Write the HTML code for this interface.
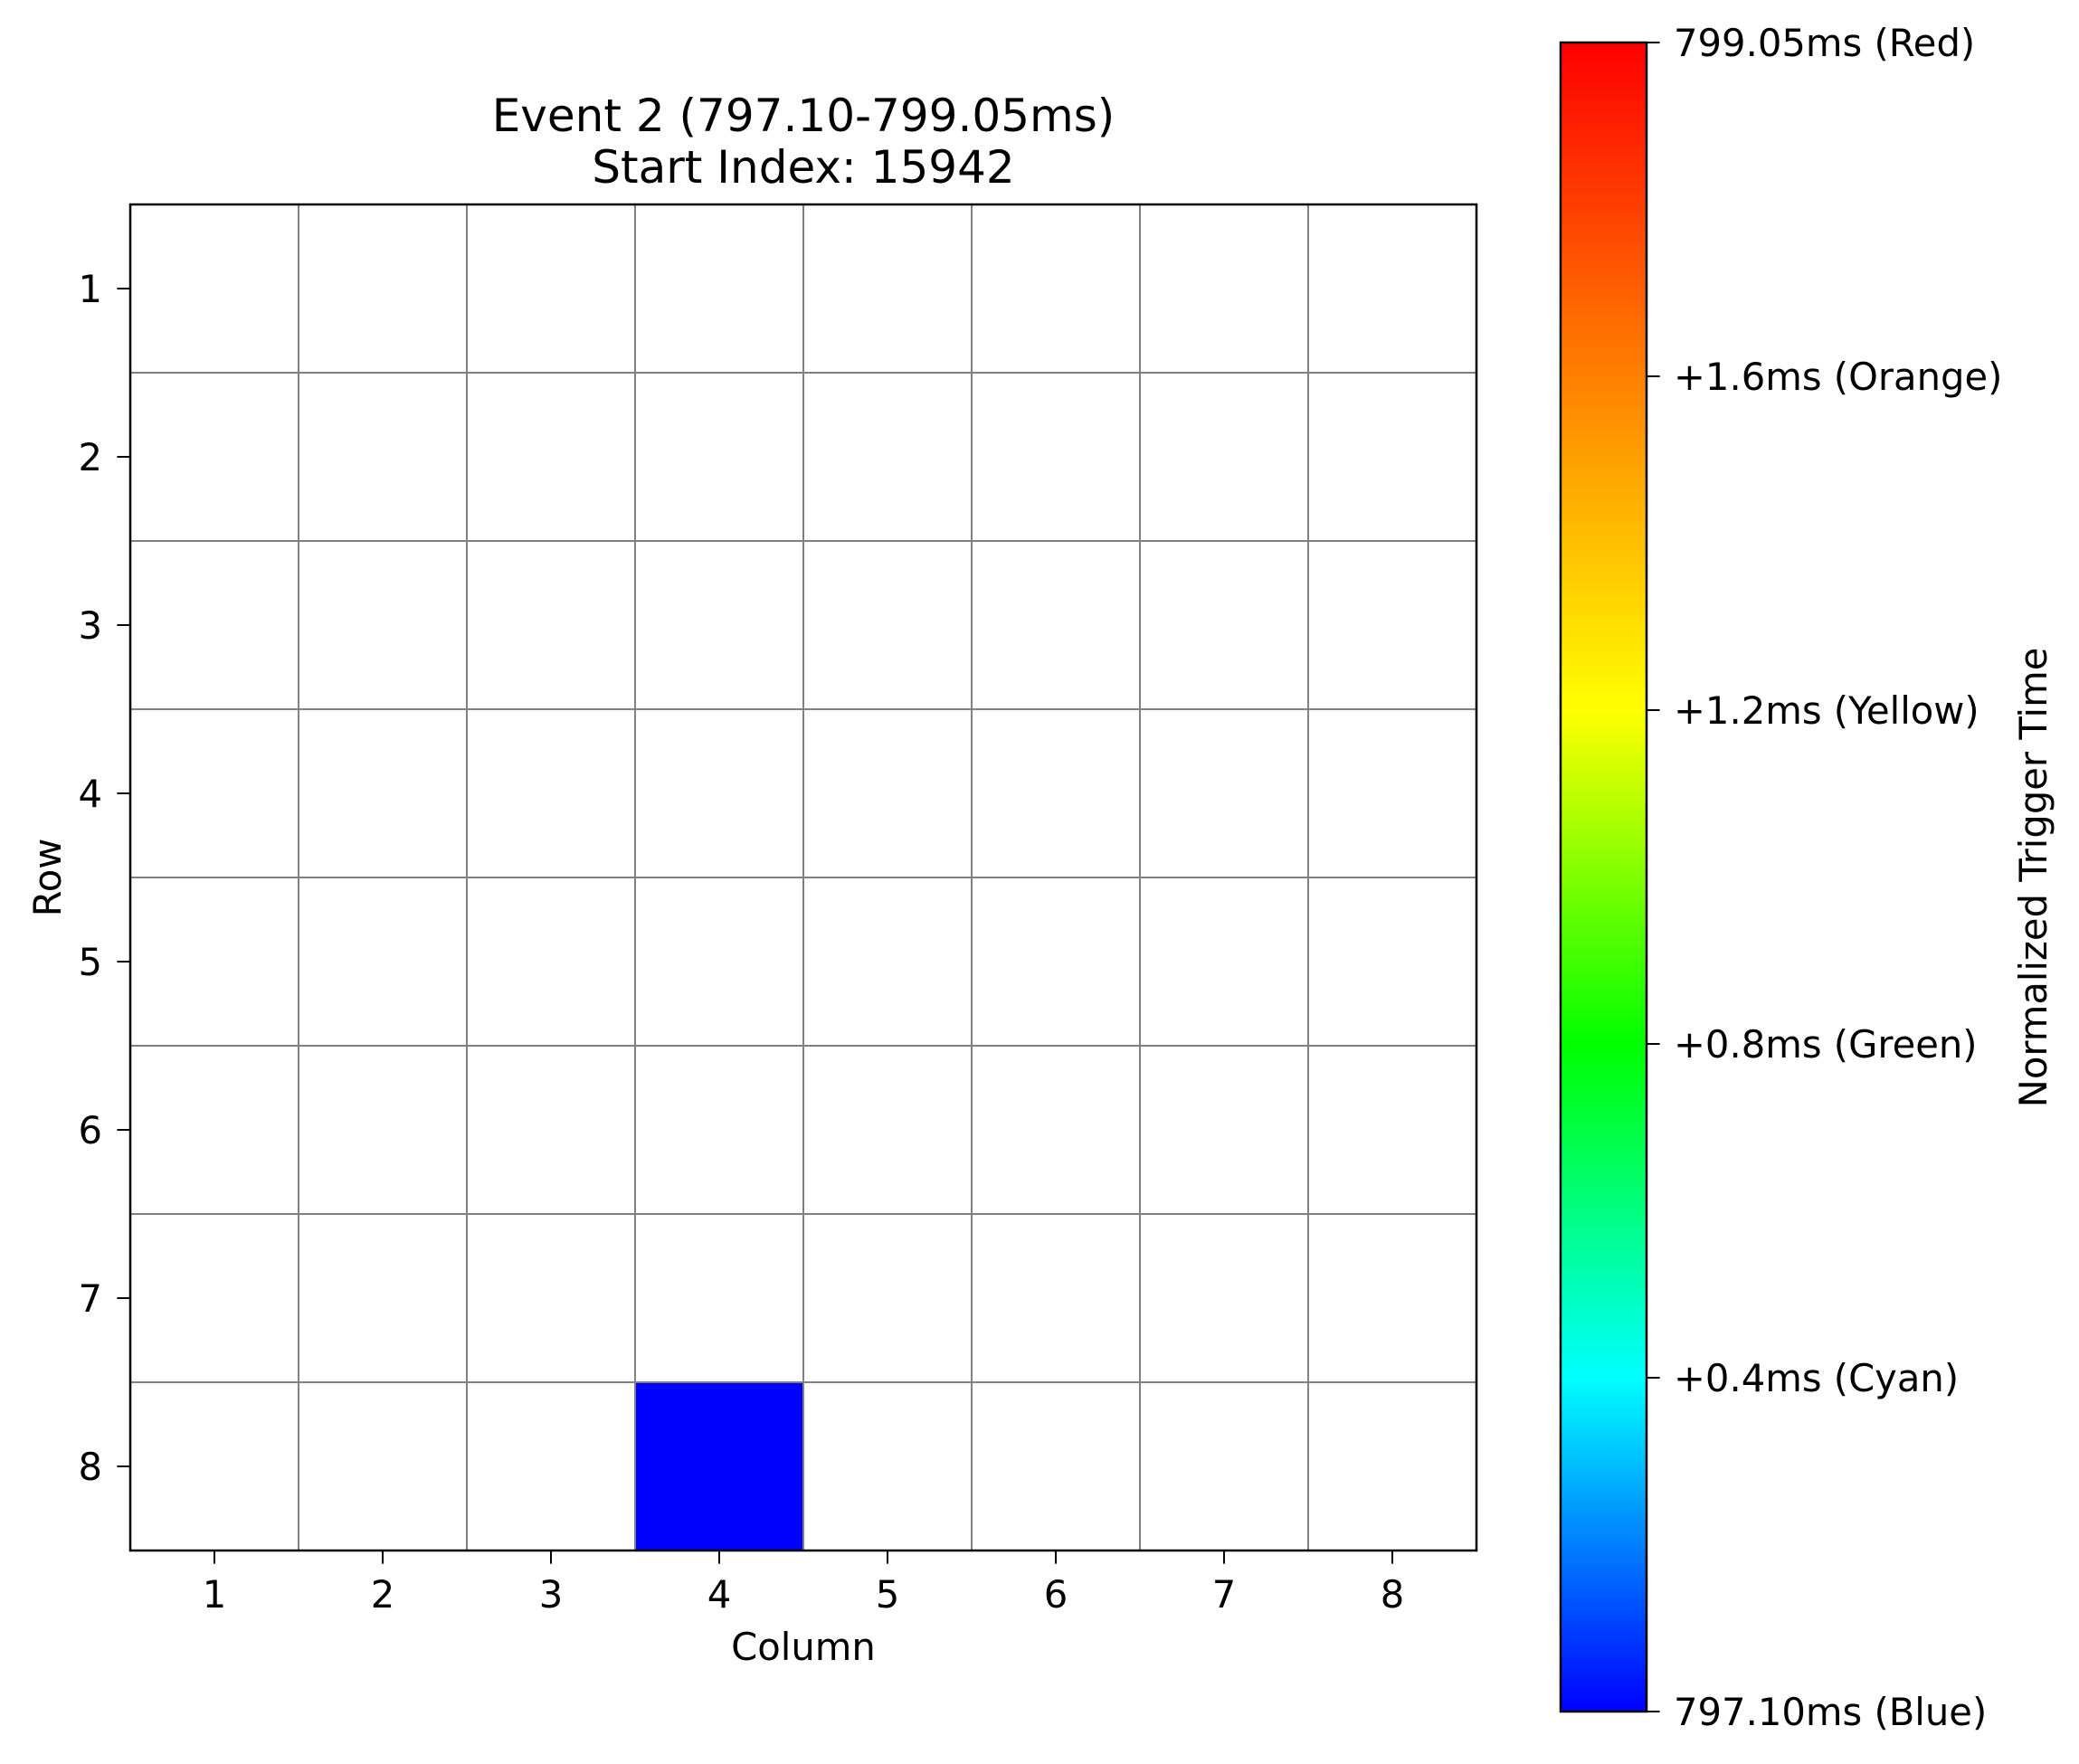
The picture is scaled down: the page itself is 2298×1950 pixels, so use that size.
<!DOCTYPE html>
<html><head><meta charset="utf-8"><style>
html,body{margin:0;padding:0;background:#fff;}
svg{display:block;font-family:"DejaVu Sans","Liberation Sans",sans-serif;}
</style></head><body>
<svg id="chart" width="2298" height="1950" viewBox="0 0 2298 1950" xmlns="http://www.w3.org/2000/svg">
<defs>
<linearGradient id="cbgrad" x1="0" y1="1" x2="0" y2="0">
<stop offset="0" stop-color="#0000ff"/>
<stop offset="0.2" stop-color="#00ffff"/>
<stop offset="0.4" stop-color="#00ff00"/>
<stop offset="0.6" stop-color="#ffff00"/>
<stop offset="0.8" stop-color="#ff8000"/>
<stop offset="1" stop-color="#ff0000"/>
</linearGradient>
</defs>
<text x="888" y="145" font-size="50" text-anchor="middle">Event 2 (797.10-799.05ms)</text>
<text x="888" y="202" font-size="50" text-anchor="middle">Start Index: 15942</text>
<g id="plot"></g>
<text x="888" y="1835" font-size="41.7" text-anchor="middle">Column</text>
<text x="67" y="970" font-size="41.7" text-anchor="middle" transform="rotate(-90 67 970)">Row</text>
<g id="cbar"></g>
<text x="2262" y="970" font-size="41.7" text-anchor="middle" transform="rotate(-90 2262 970)">Normalized Trigger Time</text>
</svg>
<script>
const columns = [1,2,3,4,5,6,7,8];
const rows = [1,2,3,4,5,6,7,8];
// triggered cells: [row, column, normalized value 0..1]
const cellRows = [8];
const cellCols = [4];
const cellValues = [0.0];
const cbTickValues = [0, 0.2, 0.4, 0.6, 0.8, 1.0];
const cbTickLabels = ["797.10ms (Blue)", "+0.4ms (Cyan)", "+0.8ms (Green)", "+1.2ms (Yellow)", "+1.6ms (Orange)", "799.05ms (Red)"];

const NS = "http://www.w3.org/2000/svg";
const AX = {l:144, t:226, r:1632, b:1714};
const CB = {l:1725, t:47, r:1820, b:1892};
const xScale = c => AX.l + (c - 0.5) * (AX.r - AX.l) / columns.length;
const yScale = r => AX.t + (r - 0.5) * (AX.b - AX.t) / rows.length;
const cbY = v => CB.b - v * (CB.b - CB.t);
function mk(tag, attrs, parent){ const e=document.createElementNS(NS,tag); for(const k in attrs) e.setAttribute(k,attrs[k]); parent.appendChild(e); return e; }
function jet(v){
  const stops=[[0,[0,0,255]],[0.2,[0,255,255]],[0.4,[0,255,0]],[0.6,[255,255,0]],[0.8,[255,128,0]],[1,[255,0,0]]];
  for(let i=0;i<stops.length-1;i++){ const [a,ca]=stops[i],[b,cb]=stops[i+1];
    if(v<=b){ const t=(v-a)/(b-a); return "rgb("+ca.map((x,j)=>Math.round(x+(cb[j]-x)*t)).join(",")+")"; } }
  return "rgb(255,0,0)";
}
const plot = document.getElementById('plot');
mk('rect',{x:AX.l,y:AX.t,width:AX.r-AX.l,height:AX.b-AX.t,fill:'#fff'},plot);
const cw = (AX.r-AX.l)/columns.length, ch = (AX.b-AX.t)/rows.length;
cellRows.forEach((r,i)=>{
  const e = mk('rect',{x:xScale(cellCols[i]-0.5),y:yScale(r-0.5),width:cw,height:ch,fill:jet(cellValues[i])},plot);
  
  
});
for(let i=1;i<columns.length;i++){
  const e = mk('line',{x1:xScale(i+0.5),x2:xScale(i+0.5),y1:AX.t,y2:AX.b,stroke:'#808080','stroke-width':2},plot);
  
  
}
for(let i=1;i<rows.length;i++){
  const e = mk('line',{x1:AX.l,x2:AX.r,y1:yScale(i+0.5),y2:yScale(i+0.5),stroke:'#808080','stroke-width':2},plot);
  
  
}
const frame = mk('rect',{x:AX.l,y:AX.t,width:AX.r-AX.l,height:AX.b-AX.t,fill:'none',stroke:'#000','stroke-width':2.5},plot);


columns.forEach(c=>{
  const x=xScale(c);
  mk('line',{x1:x,x2:x,y1:AX.b,y2:AX.b+14.6,stroke:'#000','stroke-width':2},plot);
  const t=mk('text',{x:x,y:1777,'font-size':41.7,'text-anchor':'middle'},plot);
  t.textContent=c;
  
  
});
rows.forEach(r=>{
  const y=yScale(r);
  mk('line',{x1:AX.l-14.6,x2:AX.l,y1:y,y2:y,stroke:'#000','stroke-width':2},plot);
  const t=mk('text',{x:113,y:y+15,'font-size':41.7,'text-anchor':'end'},plot);
  t.textContent=r;
  
  
});
const cbar = document.getElementById('cbar');
const bar = mk('rect',{x:CB.l,y:CB.t,width:CB.r-CB.l,height:CB.b-CB.t,fill:'url(#cbgrad)',stroke:'#000','stroke-width':2.5},cbar);


cbTickValues.forEach((v,i)=>{
  const y=cbY(v);
  mk('line',{x1:CB.r,x2:CB.r+14.6,y1:y,y2:y,stroke:'#000','stroke-width':2},cbar);
  const t=mk('text',{x:1850,y:y+15,'font-size':41.7},cbar);
  t.textContent=cbTickLabels[i];
  
  
});
</script>
</body></html>
